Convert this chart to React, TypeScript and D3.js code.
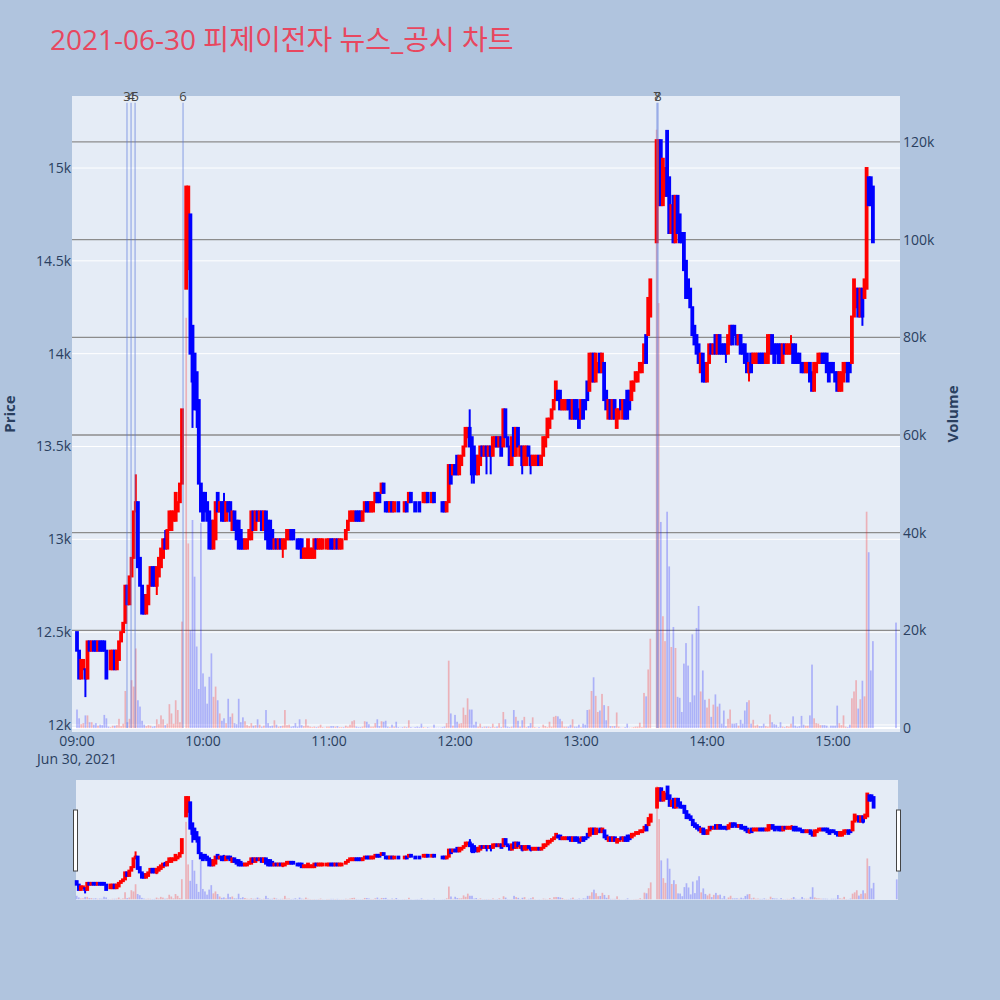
import React from 'react';
import * as d3 from 'd3';

const chartTitle = '2021-06-30 피제이전자 뉴스_공시 차트';
const sessionStart = new Date(2021, 5, 30, 9, 0, 0);

// one candle per minute from 09:00 (null = no trade that minute)
const opens = [
  12500, 12400, 12250, 12300, 12300, 12250, 12450, 12400, 12450, 12450,
  12400, 12450, 12450, 12450, 12400, 12300, 12300, 12300, 12400, 12300,
  12350, 12450, 12500, 12550, 12750, 12650, 12800, 12900, 13150, 13200,
  12900, 12750, 12700, 12600, 12650, 12750, 12850, 12850, 12750, 12800,
  12850, 12900, 13000, 12950, 13050, 13050, 13100, 13100, 13150, 13200,
  13300, null, 14350, 14550, 14750, 14150, 14000, 13900, 13750, 13300,
  13250, 13250, 13200, 13150, 13100, 12950, 13000, 13250, 13150, 13200,
  13200, 13100, 13200, 13200, 13050, 13150, 13100, 13100, 13050, 13000,
  12950, 12950, 13000, 13000, 13150, 13050, 13150, 13100, 13150, 13050,
  13150, 13100, 13100, 13050, 12950, 13000, 12950, 13000, 12950, 12950,
  13000, 13000, 13050, 13050, 13000, 13000, 13000, 13000, 12900, 12900,
  12900, 12900, 12900, 12900, 13000, 12950, 12950, 12950, 13000, 12950,
  12950, 13000, 13000, 12950, 13000, 12950, 12950, 13000, 13000, 13050,
  13100, 13100, 13100, 13150, 13150, 13150, 13100, 13150, 13200, 13200,
  13150, 13150, 13200, 13250, 13250, 13250, 13300, 13200, 13200, 13150,
  13200, 13150, 13200, 13200, 13200, 13200, 13150, 13200, 13200, 13250,
  13200, 13200, 13200, 13200, 13200, 13200, 13200, 13250, 13200, 13200,
  13250, 13200, 13200, 13200, 13200, 13200, 13150, 13200, 13400, 13350,
  13400, 13450, 13350, 13400, 13450, 13500, 13550, 13600, 13550, 13500,
  13450, 13350, 13400, 13500, 13450, 13500, 13450, 13500, 13450, 13500,
  13550, 13500, 13550, 13500, 13700, 13550, 13500, 13400, 13600, 13450,
  13600, 13450, 13500, 13400, 13400, 13500, 13450, 13400, 13400, 13400,
  13450, 13400, 13450, 13500, 13550, 13600, 13650, 13700, 13750, 13800,
  13800, 13700, 13700, 13700, 13750, 13750, 13650, 13750, 13750, 13700,
  13650, 13750, 13750, 13850, 13800, 13850, 14000, 13850, 13900, 14000,
  13900, 13950, 13800, 13650, 13750, 13650, 13750, 13600, 13650, 13750,
  13650, 13750, 13800, 13800, 13750, 13800, 13850, 13850, 13900, 13900,
  13950, 14100, 14100, 14200, null, null, 14600, 14800, 15150, 14800,
  14850, 15200, 14950, 14650, 14850, 14600, 14850, 14750, 14650, 14650,
  14500, 14400, 14350, 14250, 14150, 14100, 14050, 13900, 14000, 13950,
  13850, 13950, 14050, 14000, 14100, 14000, 14100, 14050, 14050, 14050,
  14000, 14050, 14150, 14150, 14100, 14050, 14100, 14050, 14050, 14000,
  13900, 14000, 13950, 13950, 13950, 14000, 14000, 14000, 13950, 13950,
  14000, 14100, 14050, 14050, 14050, 14050, 13950, 14050, 14000, 14000,
  14000, 14050, 14050, 14000, 14000, 13950, 13950, 13900, 13900, 13950,
  13900, 13800, 13900, 13950, 13950, 14000, 14000, 14000, 13950, 13950,
  13950, 13900, 13900, 13800, 13800, 13850, 13900, 13950, 13950, 13950,
  14200, 14250, 14350, 14200, 14350, 14300, 14350, 14950, 14950, 14900,
];

const closes = [
  12400, 12250, 12350, 12350, 12250, 12450, 12400, 12450, 12400, 12400,
  12450, 12400, 12400, 12400, 12250, 12300, 12400, 12400, 12300, 12400,
  12450, 12500, 12550, 12750, 12650, 12800, 12900, 13150, 13200, 12850,
  12750, 12600, 12600, 12700, 12750, 12850, 12750, 12750, 12850, 12900,
  12950, 13000, 12950, 13050, 13150, 13150, 13150, 13250, 13200, 13300,
  13700, null, 14900, 14900, 14000, 13850, 13700, 13700, 13300, 13150,
  13100, 13150, 13100, 12950, 12950, 13100, 13200, 13150, 13200, 13100,
  13100, 13200, 13150, 13100, 13150, 13050, 13000, 12950, 12950, 12950,
  13000, 13000, 13050, 13150, 13050, 13150, 13100, 13150, 13050, 13150,
  13000, 12950, 12950, 12950, 13000, 12950, 13000, 12950, 13000, 13000,
  13050, 13050, 13000, 13000, 13000, 12950, 12950, 12900, 12950, 12950,
  13000, 12950, 12950, 13000, 12950, 13000, 13000, 13000, 13000, 13000,
  13000, 12950, 12950, 13000, 12950, 13000, 13000, 13000, 13050, 13100,
  13150, 13150, 13150, 13100, 13100, 13100, 13150, 13200, 13150, 13150,
  13200, 13200, 13250, 13200, 13200, 13300, 13250, 13150, 13150, 13200,
  13150, 13200, 13200, 13150, 13200, 13200, 13200, 13150, 13250, 13200,
  13200, 13150, 13200, 13150, 13200, 13250, 13250, 13200, 13200, 13250,
  13200, 13200, 13200, 13200, 13150, 13150, 13200, 13400, 13300, 13400,
  13350, 13350, 13450, 13450, 13500, 13600, 13600, 13500, 13350, 13400,
  13350, 13450, 13500, 13450, 13500, 13450, 13500, 13450, 13550, 13550,
  13500, 13550, 13450, 13700, 13550, 13500, 13400, 13550, 13450, 13600,
  13500, 13500, 13400, 13500, 13500, 13450, 13400, 13450, 13450, 13450,
  13400, 13450, 13550, 13550, 13650, 13650, 13700, 13750, 13850, 13750,
  13700, 13750, 13750, 13750, 13700, 13650, 13750, 13650, 13650, 13600,
  13750, 13650, 13700, 13750, 14000, 14000, 13850, 14000, 13950, 13900,
  14000, 13750, 13700, 13750, 13650, 13750, 13650, 13700, 13700, 13700,
  13750, 13650, 13650, 13700, 13850, 13850, 13900, 13900, 13950, 13950,
  14050, 13950, 14300, 14400, null, null, 15150, 15150, 14800, 15050,
  15000, 14850, 14650, 14800, 14600, 14850, 14650, 14600, 14600, 14450,
  14300, 14300, 14250, 14100, 14050, 14000, 13950, 14000, 13850, 13850,
  13950, 14050, 14000, 14050, 14000, 14100, 14000, 14000, 14000, 14000,
  14100, 14150, 14050, 14100, 14050, 14100, 14000, 14000, 13950, 13900,
  13950, 13900, 14000, 14000, 14000, 13950, 13950, 13950, 14000, 14100,
  14100, 14000, 13950, 14000, 13950, 13950, 14050, 14000, 14050, 14050,
  14050, 13950, 13950, 13950, 13950, 13900, 13900, 13950, 13950, 13850,
  13800, 13950, 13950, 14000, 14000, 13950, 13950, 13900, 13850, 13900,
  13900, 13850, 13800, 13900, 13900, 13950, 13950, 13850, 13900, 14200,
  14400, 14350, 14200, 14350, 14200, 14400, 15000, 14800, 14800, 14600,
];

// [minute, high, low] where a wick reaches past the body
const wicks = [
  [4, 12300, 12150], [28, 13350, 13150], [38, 12850, 12700], [42, 13050, 12950],
  [53, 14900, 14450], [55, 14150, 13600], [57, 13900, 13600], [70, 13250, 13100],
  [98, 13000, 12900], [187, 13700, 13500], [188, 13550, 13300], [189, 13500, 13300],
  [195, 13500, 13350], [197, 13500, 13350], [212, 13500, 13350], [216, 13450, 13350],
  [309, 14050, 13950], [320, 13950, 13850], [340, 14100, 14000], [374, 14350, 14150],
];

const volumes = [
  3800, 2000, 800, 1000, 2600, 2600, 1200, 1200, 700, 1000,
  500, 700, 600, 2700, 2000, 300, 200, 500, 500, 600,
  1900, 400, 900, 7600, 1200, 1900, 9800, 8500, 16300, 5700,
  4400, 1500, 700, 400, 600, 500, 300, 400, 1800, 800,
  2600, 1800, 600, 900, 4900, 3000, 900, 5700, 3700, 1200,
  21800, 0, 84000, 37800, 20000, 42600, 31000, 16700, 8000, 42000,
  11200, 8500, 5000, 10500, 15300, 6400, 8500, 5700, 3000, 1500,
  2000, 1000, 6000, 2300, 3000, 1000, 800, 6000, 1200, 2200,
  1400, 600, 400, 1000, 500, 600, 1800, 700, 300, 500,
  3700, 1000, 400, 500, 1600, 700, 300, 400, 500, 3700,
  600, 700, 300, 400, 1000, 300, 1800, 600, 400, 1800,
  500, 300, 200, 300, 200, 300, 700, 200, 100, 300,
  300, 400, 400, 300, 400, 200, 200, 200, 500, 300,
  700, 1400, 1600, 300, 200, 200, 300, 1400, 1300, 800,
  300, 300, 1000, 1800, 400, 1400, 1300, 1500, 300, 200,
  700, 300, 1300, 200, 100, 200, 300, 200, 1600, 200,
  100, 200, 300, 200, 900, 200, 100, 200, 100, 100,
  700, 100, 100, 100, 200, 300, 1000, 13800, 3000, 500,
  2700, 1300, 900, 1000, 4200, 2700, 6100, 3800, 3800, 700,
  1300, 300, 900, 200, 300, 300, 300, 200, 900, 200,
  300, 1000, 200, 3300, 1800, 300, 200, 300, 3700, 2300,
  1500, 300, 1600, 2300, 200, 400, 1000, 2200, 200, 100,
  200, 100, 700, 400, 200, 1300, 300, 2300, 2500, 2400,
  1900, 1400, 300, 300, 300, 700, 1800, 300, 300, 700,
  200, 900, 700, 3700, 3800, 7600, 10400, 6600, 3300, 3600,
  7000, 4700, 1600, 4500, 400, 400, 400, 3200, 300, 100,
  100, 200, 900, 100, 100, 200, 300, 300, 1100, 200,
  7200, 6500, 12000, 18300, 0, 0, 122500, 87000, 42200, 22900,
  17800, 44300, 33100, 16600, 20700, 16400, 6400, 6200, 3300, 13200,
  17400, 12800, 5300, 19200, 6700, 20500, 25000, 7500, 11800, 5800,
  4200, 6000, 2300, 4800, 6900, 4400, 5000, 900, 3600, 400,
  1900, 3800, 900, 900, 1000, 500, 1700, 900, 3600, 5300,
  5700, 900, 1700, 500, 700, 400, 400, 900, 400, 300,
  2800, 1200, 800, 700, 200, 1200, 300, 200, 400, 300,
  900, 2400, 500, 300, 400, 2500, 700, 500, 500, 2600,
  13000, 2000, 1000, 900, 600, 600, 600, 500, 100, 500,
  500, 500, 4600, 1000, 600, 2600, 300, 200, 700, 6100,
  7500, 9800, 4000, 5900, 9700, 6500, 44300, 36000, 11800, 17800,
];

// 15:30 closing auction
const auctionMinute = 390;
const auctionPrice = 14600;
const auctionVolume = 21600;

const newsTimes = ['09:23:48', '09:25:45', '09:27:40', '09:50:30', '13:36:10', '13:36:40'];
const newsLabels = ['3', '4', '5', '6', '7', '8'];

const priceTicks = [12000, 12500, 13000, 13500, 14000, 14500, 15000];
const volumeTicks = [0, 20000, 40000, 60000, 80000, 100000, 120000];

const RED = '#ff0000';
const BLUE = '#0000ff';
const FONT = '"Open Sans", verdana, arial, "Noto Sans CJK KR", sans-serif';
const AXIS_COLOR = '#2a3f5f';

const atMinute = (m: number) => new Date(sessionStart.getTime() + m * 60000);
const parseClock = (s: string) => {
  const [h, mi, se] = s.split(':').map(Number);
  return new Date(2021, 5, 30, h, mi, se);
};

type Candle = { t: Date; open: number; close: number; high: number; low: number; vol: number };

const candles: Candle[] = [];
opens.forEach((o, i) => {
  const c = closes[i];
  if (o == null || c == null) return;
  const w = wicks.find(d => d[0] === i);
  candles.push({
    t: atMinute(i), open: o, close: c,
    high: w ? w[1] : Math.max(o, c),
    low: w ? w[2] : Math.min(o, c),
    vol: volumes[i],
  });
});
candles.push({
  t: atMinute(auctionMinute), open: auctionPrice, close: auctionPrice,
  high: auctionPrice, low: auctionPrice, vol: auctionVolume,
});

const colorOf = (c: Candle) => (c.close > c.open ? RED : BLUE);

function Layer({ x, yp, yv, prefix }: any) {
  const bodyW = 1.8;
  const barW = 1.7;
  return (
    <g>
      {candles.map((c, i) => (
        <rect key={prefix + 'v' + i}
          x={x(c.t) - barW / 2} width={barW}
          y={yv(c.vol)} height={Math.max(0, yv(0) - yv(c.vol))}
          fill={colorOf(c)} fillOpacity={0.25} />
      ))}
      {candles.map((c, i) => {
        const cx = x(c.t);
        const col = colorOf(c);
        const top = yp(Math.max(c.open, c.close));
        const bot = yp(Math.min(c.open, c.close));
        return (
          <g key={prefix + 'c' + i}>
            <line x1={cx} x2={cx} y1={yp(c.high)} y2={yp(c.low)} stroke={col} strokeWidth={2} />
            <rect x={cx - bodyW / 2} y={top} width={bodyW} height={bot - top}
              fill={col} fillOpacity={0.5} stroke={col} strokeWidth={2} />
          </g>
        );
      })}
    </g>
  );
}

export default function App() {
  const W = 1000, H = 1000;
  const plot = { left: 72, right: 900, top: 96, bottom: 732 };

  const x = d3.scaleTime().domain([atMinute(-2.38), atMinute(391.9)]).range([plot.left, plot.right]);
  const yPrice = d3.scaleLinear().domain([11962, 15388]).range([plot.bottom, plot.top]);
  const yVol = d3.scaleLinear().domain([-800, 129400]).range([plot.bottom, plot.top]);

  const slider = { left: 76, right: 898, top: 780, bottom: 900 };
  const xs = d3.scaleTime().domain([atMinute(-0.33), atMinute(390.6)]).range([slider.left, slider.right]);
  const yPriceS = yPrice.copy().range([slider.bottom, slider.top]);
  const yVolS = yVol.copy().range([slider.bottom, slider.top]);

  const hourTicks = x.ticks(d3.timeHour.every(1)!).filter(t => t >= sessionStart);
  const fmtHour = d3.timeFormat('%H:%M');
  const fmtPrice = d3.format('~s');

  return (
    <svg width={W} height={H} style={{ position: 'absolute', left: 0, top: 0, display: 'block' }}
      fontFamily={FONT}>
      <rect width={W} height={H} fill="#b0c4de" />
      <text x={50} y={50} fontSize={28} fill="#e8475f">{chartTitle}</text>

      {/* main plot */}
      <rect x={plot.left} y={plot.top} width={plot.right - plot.left} height={plot.bottom - plot.top} fill="#e5ecf6" />
      {priceTicks.map(p => (
        <line key={'gp' + p} x1={plot.left} x2={plot.right} y1={yPrice(p)} y2={yPrice(p)} stroke="#fff" strokeWidth={1} />
      ))}
      {volumeTicks.filter(v => v > 0).map(v => (
        <line key={'gv' + v} x1={plot.left} x2={plot.right} y1={yVol(v)} y2={yVol(v)} stroke="#8c8c8c" strokeWidth={1.3} />
      ))}
      <line x1={plot.left} x2={plot.right} y1={yVol(0)} y2={yVol(0)} stroke="#fff" strokeWidth={2} />

      <Layer x={x} yp={yPrice} yv={yVol} prefix="m" />

      {newsTimes.map((s, i) => {
        const nx = x(parseClock(s));
        return (
          <g key={'n' + i}>
            <line x1={nx} x2={nx} y1={yVol(0)} y2={yVol(128000)} stroke="rgb(90,120,220)" strokeOpacity={0.45} strokeWidth={1.5} />
            <text x={nx} y={101} fontSize={13} fill="#444" textAnchor="middle">{newsLabels[i]}</text>
          </g>
        );
      })}

      {/* axes */}
      {priceTicks.map(p => (
        <text key={'tp' + p} x={plot.left - 1} y={yPrice(p) + 5} fontSize={14} fill={AXIS_COLOR} textAnchor="end">{fmtPrice(p)}</text>
      ))}
      {volumeTicks.map(v => (
        <text key={'tv' + v} x={plot.right + 3} y={yVol(v) + 5} fontSize={14} fill={AXIS_COLOR} textAnchor="start">{fmtPrice(v)}</text>
      ))}
      {hourTicks.map((t, i) => (
        <g key={'tx' + i}>
          <text x={x(t)} y={746} fontSize={14} fill={AXIS_COLOR} textAnchor="middle">{fmtHour(t)}</text>
          {i === 0 && <text x={x(t)} y={764} fontSize={14} fill={AXIS_COLOR} textAnchor="middle">Jun 30, 2021</text>}
        </g>
      ))}
      <text transform={`translate(15,414) rotate(-90)`} fontSize={15} fontWeight="bold" fill={AXIS_COLOR} textAnchor="middle">Price</text>
      <text transform={`translate(958,414) rotate(-90)`} fontSize={15} fontWeight="bold" fill={AXIS_COLOR} textAnchor="middle">Volume</text>

      {/* range slider */}
      <rect x={slider.left} y={slider.top} width={slider.right - slider.left} height={slider.bottom - slider.top} fill="#e5ecf6" />
      <Layer x={xs} yp={yPriceS} yv={yVolS} prefix="s" />
      <rect x={73.5} y={810} width={4} height={61} fill="#fff" stroke="#444" strokeWidth={1} />
      <rect x={896.5} y={810} width={4} height={61} fill="#fff" stroke="#444" strokeWidth={1} />
    </svg>
  );
}
